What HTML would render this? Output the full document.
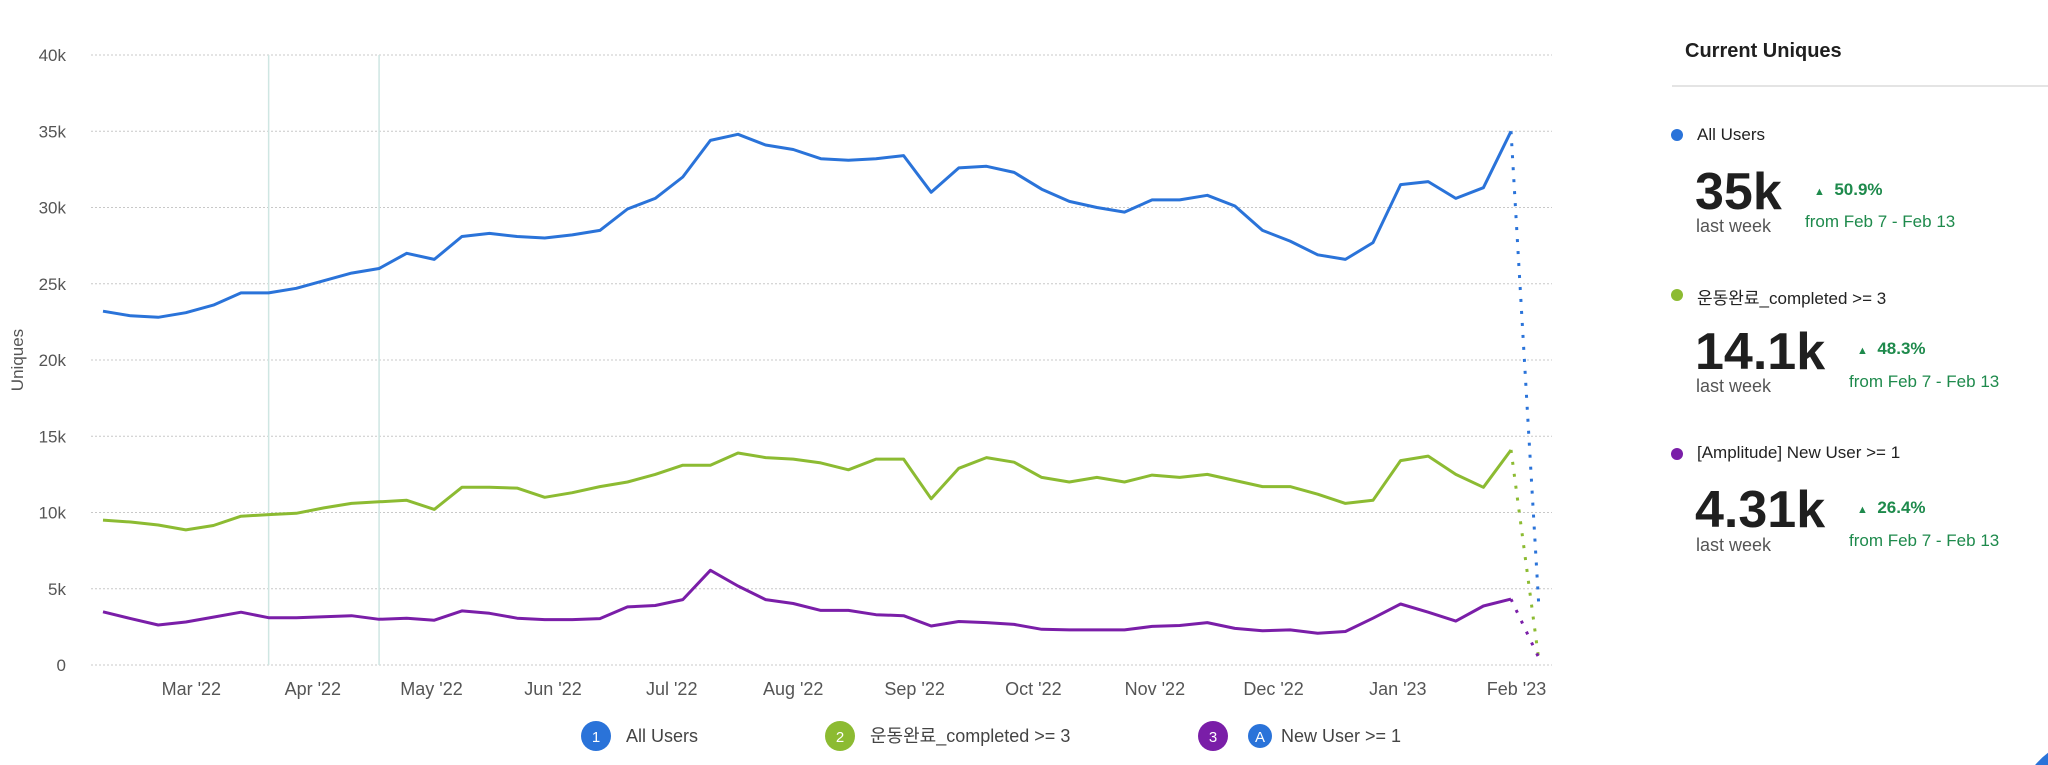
<!DOCTYPE html>
<html><head><meta charset="utf-8">
<style>
html,body{margin:0;padding:0;background:#fff;}
body{width:2048px;height:765px;overflow:hidden;position:relative;font-family:"Liberation Sans","Noto Sans CJK KR",sans-serif;}
svg{position:absolute;left:0;top:0;}
.p{position:absolute;white-space:nowrap;}
.big{font-weight:bold;font-size:52px;color:#1f1f1f;letter-spacing:0px;}
.lw{font-size:18px;color:#555;}
.pct{font-size:17px;font-weight:bold;color:#1e8a4c;}
.from{font-size:17px;color:#1e8a4c;}
.nm{font-size:17px;color:#222;}
.dot{position:absolute;width:12px;height:12px;border-radius:50%;}
</style></head>
<body>
<svg id="chart" width="2048" height="765">
<path d="M2048,752.8 A78,78 0 0 0 2035.1,765 L2048,765 Z" fill="#2a73d9"></path>
</svg>

<div class="p" style="left:1685px;top:40px;font-size:20px;font-weight:bold;color:#1f1f1f">Current Uniques</div>
<div style="position:absolute;left:1672px;top:85px;width:376px;height:2px;background:#e4e4e4"></div>

<div class="dot" style="left:1671px;top:129px;background:#2a73d9"></div>
<div class="p nm" style="left:1697px;top:125px">All Users</div>
<div class="p big" style="left:1695px;top:162px">35k</div>
<div class="p lw" style="left:1696px;top:216px">last week</div>
<div class="p pct" style="left:1814px;top:180px"><span style="font-size:11px">▲</span>&nbsp; 50.9%</div>
<div class="p from" style="left:1805px;top:212px">from Feb 7 - Feb 13</div>

<div class="dot" style="left:1671px;top:289px;background:#8cbb32"></div>
<div class="p nm" style="left:1697px;top:284px">운동완료_completed &gt;= 3</div>
<div class="p big" style="left:1695px;top:322px">14.1k</div>
<div class="p lw" style="left:1696px;top:376px">last week</div>
<div class="p pct" style="left:1857px;top:339px"><span style="font-size:11px">▲</span>&nbsp; 48.3%</div>
<div class="p from" style="left:1849px;top:372px">from Feb 7 - Feb 13</div>

<div class="dot" style="left:1671px;top:448px;background:#7a1ea8"></div>
<div class="p nm" style="left:1697px;top:443px">[Amplitude] New User &gt;= 1</div>
<div class="p big" style="left:1695px;top:480px">4.31k</div>
<div class="p lw" style="left:1696px;top:535px">last week</div>
<div class="p pct" style="left:1857px;top:498px"><span style="font-size:11px">▲</span>&nbsp; 26.4%</div>
<div class="p from" style="left:1849px;top:531px">from Feb 7 - Feb 13</div>

<script>
const months=["Mar '22","Apr '22","May '22","Jun '22","Jul '22","Aug '22","Sep '22","Oct '22","Nov '22","Dec '22","Jan '23","Feb '23"];
const monthWeekIndex=[3.2,7.6,11.9,16.3,20.6,25.0,29.4,33.7,38.1,42.4,46.9,51.2];
const yTicks=[0,5000,10000,15000,20000,25000,30000,35000,40000];
const yTickLabels=["0","5k","10k","15k","20k","25k","30k","35k","40k"];
const markerWeeks=[6,10];
const allUsers=[23.2,22.9,22.8,23.1,23.6,24.4,24.4,24.7,25.2,25.7,26.0,27.0,26.6,28.1,28.3,28.1,28.0,28.2,28.5,29.9,30.6,32.0,34.4,34.8,34.1,33.8,33.2,33.1,33.2,33.4,31.0,32.6,32.7,32.3,31.2,30.4,30.0,29.7,30.5,30.5,30.8,30.1,28.5,27.8,26.9,26.6,27.7,31.5,31.7,30.6,31.3,35.0,4.1];
const completed=[9.5,9.38,9.18,8.86,9.15,9.76,9.86,9.95,10.3,10.6,10.7,10.8,10.2,11.65,11.65,11.6,11.0,11.3,11.7,12.0,12.5,13.1,13.1,13.9,13.6,13.5,13.25,12.8,13.5,13.5,10.9,12.9,13.6,13.3,12.3,12.0,12.3,12.0,12.45,12.3,12.5,12.1,11.7,11.7,11.2,10.6,10.8,13.4,13.7,12.5,11.65,14.1,0.45];
const newUsers=[3.49,3.04,2.62,2.82,3.14,3.46,3.1,3.1,3.17,3.23,3.0,3.07,2.94,3.55,3.39,3.07,2.98,2.98,3.04,3.81,3.9,4.29,6.21,5.18,4.29,4.03,3.58,3.58,3.3,3.23,2.56,2.85,2.78,2.66,2.34,2.3,2.3,2.3,2.53,2.59,2.78,2.4,2.24,2.3,2.08,2.2,3.07,4.0,3.46,2.88,3.87,4.32,0.5];

const NS="http://www.w3.org/2000/svg";
const svg=document.getElementById('chart');
const X0=103,X51=1511,Y0=665,Y40=55,GL=91,GR=1552;
const xs=i=>X0+(X51-X0)*i/51;
const ys=v=>Y0-(Y0-Y40)*v/40000;
function mk(t,a,p){const e=document.createElementNS(NS,t);for(const k in a)e.setAttribute(k,a[k]);(p||svg).appendChild(e);return e;}

yTicks.forEach((v,i)=>{
  const g=mk('line',{x1:GL,x2:GR,y1:ys(v),y2:ys(v),stroke:'#c8c8c8','stroke-width':1,'stroke-dasharray':'2,2'});
  
  
  const t=mk('text',{x:66,y:ys(v)+6,'text-anchor':'end','font-size':17,fill:'#555','font-family':'Liberation Sans'});
  t.textContent=yTickLabels[i];
  
  
});
markerWeeks.forEach(w=>{
  const l=mk('line',{x1:xs(w),x2:xs(w),y1:ys(40000),y2:ys(0),stroke:'#cfe6e2','stroke-width':1.5});
  
  
});
months.forEach((m,i)=>{
  const t=mk('text',{x:xs(monthWeekIndex[i]),y:695,'text-anchor':'middle','font-size':18,fill:'#555','font-family':'Liberation Sans'});
  t.textContent=m;
  
  
});
const yt=mk('text',{x:0,y:0,transform:'translate(23,360) rotate(-90)','text-anchor':'middle','font-size':17,fill:'#555','font-family':'Liberation Sans'});
yt.textContent='Uniques';



function series(data,color,name){
  const n=data.length-1;
  let d='';
  for(let i=0;i<n;i++){d+=(i?'L':'M')+xs(i).toFixed(1)+','+ys(data[i]*1000).toFixed(1);}
  const p=mk('path',{d:d,fill:'none',stroke:color,'stroke-width':3,'stroke-linejoin':'round'});
  
  
  const q=mk('line',{x1:xs(n-1),y1:ys(data[n-1]*1000),x2:xs(n),y2:ys(data[n]*1000),stroke:color,'stroke-width':3,'stroke-dasharray':'3,9','stroke-linecap':'butt'});
  
  
}
series(allUsers,'#2a73d9','all-users');
series(completed,'#8cbb32','completed');
series(newUsers,'#7a1ea8','new-user');

function legendItem(cx,color,num,label,tx,name){
  const g=mk('g',{});
  
  
  mk('circle',{cx:cx,cy:736,r:15,fill:color},g);
  const n=mk('text',{x:cx,y:742,'text-anchor':'middle','font-size':15,fill:'#fff','font-family':'Liberation Sans'},g);
  n.textContent=num;
  const t=mk('text',{x:tx,y:742,'font-size':18,fill:'#444','font-family':'Liberation Sans, Noto Sans CJK KR, sans-serif'},g);
  t.textContent=label;
}
legendItem(596,'#2a73d9','1','All Users',626,'legend-all-users');
legendItem(840,'#8cbb32','2','운동완료_completed >= 3',870,'legend-completed');
legendItem(1213,'#7a1ea8','3','New User >= 1',1281,'legend-new-user');
const ic=mk('circle',{cx:1260,cy:736,r:12,fill:'#2a73d9'});


const it=mk('text',{x:1260,y:742,'text-anchor':'middle','font-size':15,fill:'#fff','font-family':'Liberation Sans'});
it.textContent='A';
</script>
</body></html>
